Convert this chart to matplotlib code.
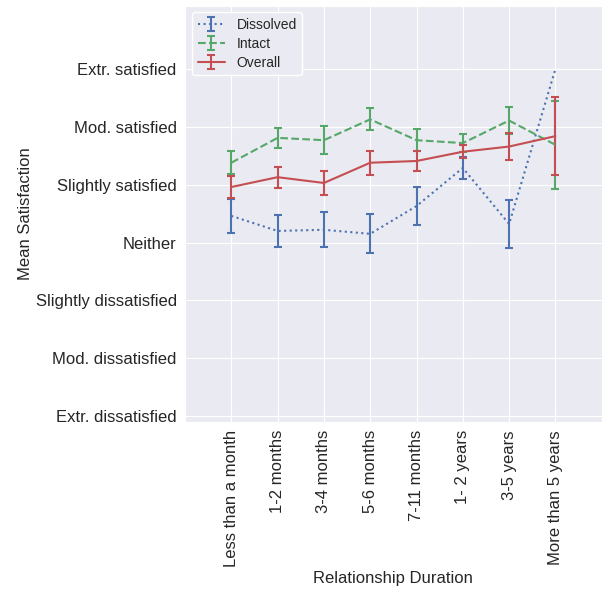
import matplotlib
matplotlib.use("Agg")
import matplotlib.pyplot as plt
import seaborn as sns
import numpy as np

durations = ["Less than a month", "1-2 months", "3-4 months", "5-6 months",
             "7-11 months", "1- 2 years", "3-5 years", "More than 5 years"]
satisfaction_labels = ["Extr. dissatisfied", "Mod. dissatisfied", "Slightly dissatisfied",
                       "Neither", "Slightly satisfied", "Mod. satisfied", "Extr. satisfied"]
satisfaction_levels = [1, 2, 3, 4, 5, 6, 7]

dissolved_mean = [4.46, 4.20, 4.22, 4.15, 4.63, 5.29, 4.32, 7.00]
dissolved_err = [0.29, 0.28, 0.30, 0.34, 0.33, 0.19, 0.42, np.nan]
intact_mean = [5.38, 5.81, 5.77, 6.13, 5.77, 5.72, 6.11, 5.69]
intact_err = [0.20, 0.17, 0.24, 0.19, 0.19, 0.15, 0.23, 0.76]
overall_mean = [4.96, 5.13, 5.03, 5.38, 5.41, 5.57, 5.66, 5.84]
overall_err = [0.185, 0.18, 0.21, 0.21, 0.18, 0.11, 0.23, 0.67]

sns.set_style("darkgrid")
plt.rcParams['font.family'] = ['Liberation Sans', 'DejaVu Sans']
plt.rcParams['text.color'] = '.15'
plt.rcParams['axes.labelcolor'] = '.15'
plt.rcParams['xtick.color'] = '.15'
plt.rcParams['ytick.color'] = '.15'

fig = plt.figure(figsize=(6.02, 5.90), dpi=100)
ax = fig.add_axes([185/602, 1-421.7/590, (601.7-185)/602, (421.7-5.5)/590])

x = np.arange(len(durations))
ax.errorbar(x, dissolved_mean, yerr=dissolved_err, color='#4C72B0', ls=':', lw=1.5,
            capsize=3, elinewidth=1.5, capthick=1.5, label='Dissolved')
ax.errorbar(x, intact_mean, yerr=intact_err, color='#55A868', ls='--', lw=1.5,
            capsize=3, elinewidth=1.5, capthick=1.5, label='Intact')
ax.errorbar(x, overall_mean, yerr=overall_err, color='#C44E52', ls='-', lw=1.5,
            capsize=3, elinewidth=1.5, capthick=1.5, label='Overall')

ax.set_xlim(-1, 8)
ax.set_ylim(0.9, 8.1)
ax.set_xticks(x)
ax.set_xticklabels(durations, rotation=90, fontsize=12)
ax.set_yticks(satisfaction_levels)
ax.set_yticklabels(satisfaction_labels, fontsize=12)
ax.tick_params(axis='both', length=0)
ax.tick_params(axis='y', pad=6)
ax.tick_params(axis='x', pad=6)
ax.set_xlabel("Relationship Duration", fontsize=12, labelpad=3)
ax.set_ylabel("Mean Satisfaction", fontsize=12, labelpad=2)

leg = ax.legend(loc='upper left', fontsize=10, frameon=True, facecolor='#EAEAF2',
                edgecolor='white', framealpha=1.0, labelspacing=0.35)

fig.savefig("out.png", dpi=100)
